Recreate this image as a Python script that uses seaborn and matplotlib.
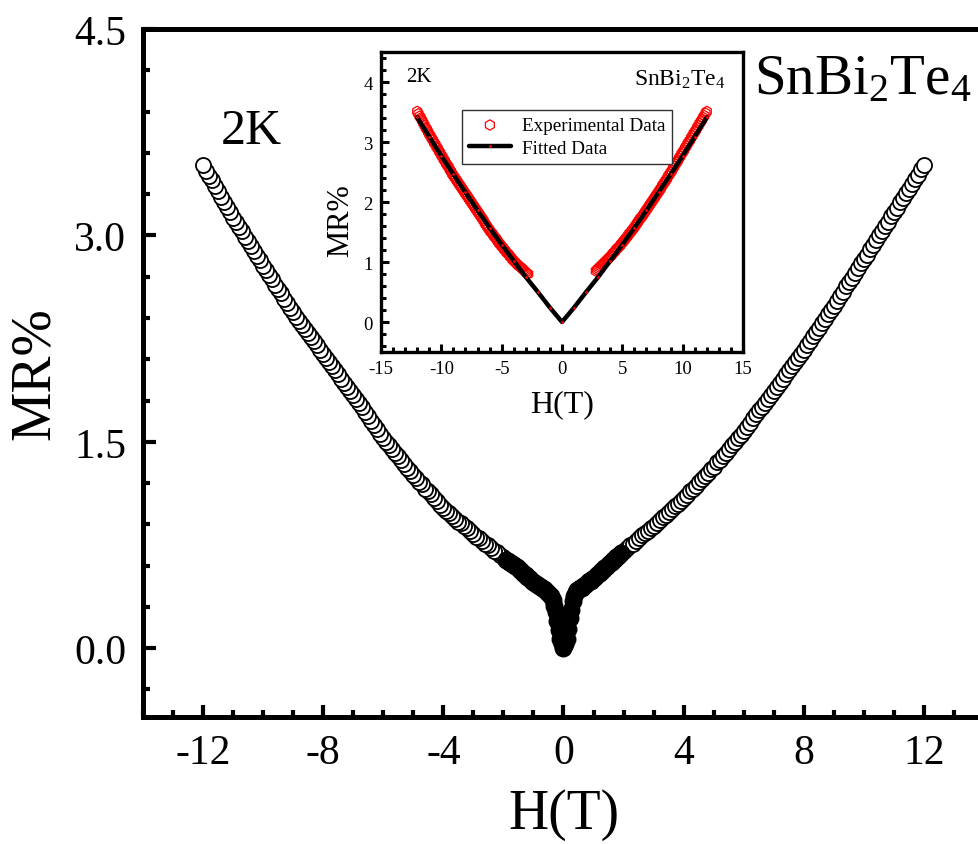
import matplotlib
matplotlib.use("Agg")
import matplotlib.pyplot as plt
from matplotlib.ticker import MultipleLocator, FixedLocator
import seaborn as sns
import pandas as pd

# ---------------- data ----------------
# positive field sweep (0 -> 12 T)
H_pos = [0.00, 0.05, 0.10, 0.15, 0.20, 0.25, 0.30, 0.35, 0.40, 0.45,
         0.50, 0.55, 0.60, 0.65, 0.70, 0.75, 0.80, 0.85, 0.90, 0.95,
         1.00, 1.05, 1.10, 1.15, 1.20, 1.25, 1.30, 1.35, 1.40, 1.45,
         1.50, 1.55, 1.60, 1.65, 1.70, 1.75, 1.80, 1.85, 1.90, 1.95,
         2.0, 2.1, 2.2, 2.3, 2.4, 2.5, 2.6, 2.7, 2.8, 2.9,
         3.0, 3.1, 3.2, 3.3, 3.4, 3.5, 3.6, 3.7, 3.8, 3.9,
         4.0, 4.1, 4.2, 4.3, 4.4, 4.5, 4.6, 4.7, 4.8, 4.9,
         5.0, 5.1, 5.2, 5.3, 5.4, 5.5, 5.6, 5.7, 5.8, 5.9,
         6.0, 6.1, 6.2, 6.3, 6.4, 6.5, 6.6, 6.7, 6.8, 6.9,
         7.0, 7.1, 7.2, 7.3, 7.4, 7.5, 7.6, 7.7, 7.8, 7.9,
         8.0, 8.1, 8.2, 8.3, 8.4, 8.5, 8.6, 8.7, 8.8, 8.9,
         9.0, 9.1, 9.2, 9.3, 9.4, 9.5, 9.6, 9.7, 9.8, 9.9,
         10.0, 10.1, 10.2, 10.3, 10.4, 10.5, 10.6, 10.7, 10.8, 10.9,
         11.0, 11.1, 11.2, 11.3, 11.4, 11.5, 11.6, 11.7, 11.8, 11.9,
         12.0]
MR_pos = [0.00, 0.03, 0.07, 0.14, 0.22, 0.28, 0.34, 0.38, 0.41, 0.42,
          0.43, 0.435, 0.44, 0.45, 0.46, 0.47, 0.48, 0.485, 0.49, 0.50,
          0.51, 0.52, 0.53, 0.54, 0.55, 0.56, 0.57, 0.58, 0.59, 0.60,
          0.61, 0.62, 0.63, 0.64, 0.65, 0.66, 0.67, 0.68, 0.69, 0.70,
          0.71, 0.73, 0.75, 0.76, 0.78, 0.80, 0.82, 0.84, 0.85, 0.87,
          0.89, 0.91, 0.93, 0.95, 0.97, 0.99, 1.01, 1.03, 1.05, 1.07,
          1.09, 1.11, 1.14, 1.16, 1.18, 1.21, 1.23, 1.25, 1.27, 1.30,
          1.32, 1.35, 1.37, 1.40, 1.42, 1.45, 1.48, 1.50, 1.53, 1.55,
          1.58, 1.61, 1.64, 1.67, 1.70, 1.73, 1.75, 1.78, 1.81, 1.84,
          1.87, 1.90, 1.93, 1.96, 1.99, 2.02, 2.05, 2.08, 2.11, 2.14,
          2.17, 2.20, 2.23, 2.27, 2.30, 2.33, 2.36, 2.39, 2.43, 2.46,
          2.49, 2.52, 2.56, 2.59, 2.63, 2.66, 2.69, 2.73, 2.76, 2.80,
          2.83, 2.86, 2.90, 2.93, 2.97, 3.00, 3.03, 3.07, 3.10, 3.14,
          3.17, 3.20, 3.24, 3.27, 3.31, 3.34, 3.37, 3.41, 3.44, 3.48,
          3.51]

# negative field sweep (0 -> -12 T)
H_neg = [-0.05, -0.10, -0.15, -0.20, -0.25, -0.30, -0.35, -0.40, -0.45,
         -0.50, -0.55, -0.60, -0.65, -0.70, -0.75, -0.80, -0.85, -0.90, -0.95,
         -1.00, -1.05, -1.10, -1.15, -1.20, -1.25, -1.30, -1.35, -1.40, -1.45,
         -1.50, -1.55, -1.60, -1.65, -1.70, -1.75, -1.80, -1.85, -1.90, -1.95,
         -2.0, -2.1, -2.2, -2.3, -2.4, -2.5, -2.6, -2.7, -2.8, -2.9,
         -3.0, -3.1, -3.2, -3.3, -3.4, -3.5, -3.6, -3.7, -3.8, -3.9,
         -4.0, -4.1, -4.2, -4.3, -4.4, -4.5, -4.6, -4.7, -4.8, -4.9,
         -5.0, -5.1, -5.2, -5.3, -5.4, -5.5, -5.6, -5.7, -5.8, -5.9,
         -6.0, -6.1, -6.2, -6.3, -6.4, -6.5, -6.6, -6.7, -6.8, -6.9,
         -7.0, -7.1, -7.2, -7.3, -7.4, -7.5, -7.6, -7.7, -7.8, -7.9,
         -8.0, -8.1, -8.2, -8.3, -8.4, -8.5, -8.6, -8.7, -8.8, -8.9,
         -9.0, -9.1, -9.2, -9.3, -9.4, -9.5, -9.6, -9.7, -9.8, -9.9,
         -10.0, -10.1, -10.2, -10.3, -10.4, -10.5, -10.6, -10.7, -10.8, -10.9,
         -11.0, -11.1, -11.2, -11.3, -11.4, -11.5, -11.6, -11.7, -11.8, -11.9,
         -12.0]
MR_neg = [0.03, 0.07, 0.13, 0.20, 0.26, 0.31, 0.35, 0.38, 0.39,
          0.40, 0.41, 0.42, 0.43, 0.44, 0.445, 0.45, 0.46, 0.47, 0.475,
          0.48, 0.49, 0.50, 0.51, 0.52, 0.53, 0.54, 0.55, 0.56, 0.57,
          0.58, 0.59, 0.60, 0.605, 0.61, 0.62, 0.63, 0.635, 0.64, 0.65,
          0.66, 0.68, 0.70, 0.71, 0.73, 0.75, 0.76, 0.78, 0.80, 0.81,
          0.83, 0.85, 0.87, 0.89, 0.91, 0.92, 0.94, 0.96, 0.98, 1.00,
          1.02, 1.04, 1.07, 1.09, 1.12, 1.14, 1.16, 1.19, 1.21, 1.24,
          1.26, 1.29, 1.31, 1.34, 1.37, 1.40, 1.42, 1.45, 1.48, 1.50,
          1.53, 1.56, 1.59, 1.62, 1.65, 1.69, 1.72, 1.75, 1.78, 1.81,
          1.84, 1.87, 1.90, 1.93, 1.96, 1.99, 2.02, 2.05, 2.08, 2.11,
          2.14, 2.17, 2.20, 2.23, 2.26, 2.29, 2.32, 2.35, 2.38, 2.41,
          2.44, 2.47, 2.51, 2.54, 2.58, 2.61, 2.64, 2.68, 2.71, 2.75,
          2.78, 2.82, 2.85, 2.89, 2.92, 2.96, 2.99, 3.03, 3.06, 3.10,
          3.13, 3.17, 3.21, 3.24, 3.28, 3.32, 3.36, 3.40, 3.43, 3.47,
          3.51]

# fitted curve shown in the inset
H_fit = [-12, -11, -10, -9, -8, -7, -6, -5, -4, -3, -2, -1, 0,
         1, 2, 3, 4, 5, 6, 7, 8, 9, 10, 11, 12]
MR_fit = [3.41, 3.09, 2.77, 2.46, 2.16, 1.86, 1.57, 1.29, 1.02, 0.75, 0.50, 0.24, 0.00,
          0.24, 0.50, 0.75, 1.02, 1.29, 1.57, 1.86, 2.16, 2.46, 2.77, 3.09, 3.41]

INSET_MIN_FIELD = 2.8
# low-field band where the measured points pile up into a solid black trace
DENSE_HIGH = 1.9

main_xticks = [-12, -8, -4, 0, 4, 8, 12]
main_yticks = [0.0, 1.5, 3.0, 4.5]
main_yticklabels = ["0.0", "1.5", "3.0", "4.5"]
inset_xticks = [-15, -10, -5, 0, 5, 10, 15]
inset_yticks = [0, 1, 2, 3, 4]

# ---------------- style ----------------
sns.set_style("ticks")
plt.rcParams["font.family"] = ["Liberation Serif", "DejaVu Serif"]
plt.rcParams["mathtext.fontset"] = "custom"
plt.rcParams["mathtext.rm"] = "Liberation Serif"
plt.rcParams["mathtext.it"] = "Liberation Serif:italic"
plt.rcParams["axes.unicode_minus"] = False
for key in ["text.color", "axes.labelcolor", "xtick.color", "ytick.color",
            "axes.edgecolor"]:
    plt.rcParams[key] = "black"

df_main = pd.DataFrame({"H": H_pos + H_neg, "MR": MR_pos + MR_neg})
absH = df_main["H"].abs()
df_open = df_main[absH > DENSE_HIGH]
df_dense = df_main[absH <= DENSE_HIGH]
df_exp = df_main[absH >= INSET_MIN_FIELD]
df_fit = pd.DataFrame({"H": H_fit, "MR": MR_fit})

W, Hh = 979, 845
fig = plt.figure(figsize=(W / 100, Hh / 100), dpi=100)
fig.patch.set_facecolor("white")


def px_axes(l, t, r, b):
    return [l / W, 1 - b / Hh, (r - l) / W, (b - t) / Hh]


# ---------------- main axes ----------------
ax = fig.add_axes(px_axes(143, 30, 984, 718))
sns.scatterplot(data=df_open, x="H", y="MR", ax=ax, marker="o", s=118,
                color="white", edgecolor="black", linewidth=1.3, legend=False,
                zorder=3)
sns.scatterplot(data=df_dense, x="H", y="MR", ax=ax, marker="o", s=135,
                color="black", edgecolor="black", linewidth=1.3, legend=False,
                zorder=3)
ax.set_xlim(-14, 14)
ax.set_ylim(-0.5, 4.5)
ax.xaxis.set_major_locator(FixedLocator(main_xticks))
ax.xaxis.set_minor_locator(MultipleLocator(1))
ax.yaxis.set_major_locator(FixedLocator(main_yticks))
ax.set_yticklabels(main_yticklabels)
ax.yaxis.set_minor_locator(MultipleLocator(0.3))
ax.tick_params(which="both", direction="in", top=False, right=False,
               width=3, colors="black")
ax.tick_params(which="major", length=9, labelsize=30, pad=12)
ax.tick_params(which="minor", length=5)
for sp in ax.spines.values():
    sp.set_linewidth(3.6)
    sp.set_color("black")
ax.set_xlabel("H(T)", fontsize=40)
ax.set_ylabel("MR%", fontsize=40)
ax.xaxis.set_label_coords(0.5, -0.103)
ax.yaxis.set_label_coords(-0.098, 0.5)
ax.text(-11.4, 3.67, "2K", fontsize=36, ha="left", va="baseline")
ax.text(6.35, 4.03, r"SnBi$_2$Te$_4$", fontsize=41, ha="left", va="baseline")

# ---------------- inset ----------------
ins = fig.add_axes(px_axes(381, 53, 743, 353))
ins.set_facecolor("white")
sns.scatterplot(data=df_exp, x="H", y="MR", ax=ins, marker="h", s=55,
                facecolor="none", edgecolor="red", linewidth=0.9,
                label="Experimental Data", zorder=3)
sns.lineplot(data=df_fit, x="H", y="MR", ax=ins, color="black", linewidth=3.2,
             marker="o", markersize=1.2, markerfacecolor="red",
             markeredgecolor="red", label="Fitted Data", zorder=4)
ins.set_xlim(-15, 15)
ins.set_ylim(-0.5, 4.5)
ins.xaxis.set_major_locator(FixedLocator(inset_xticks))
ins.xaxis.set_minor_locator(MultipleLocator(1))
ins.yaxis.set_major_locator(FixedLocator(inset_yticks))
ins.yaxis.set_minor_locator(MultipleLocator(0.2))
ins.tick_params(which="both", direction="in", top=False, right=False,
                width=2.2, colors="black")
ins.tick_params(which="major", length=6, labelsize=13.5, pad=6)
ins.tick_params(which="minor", length=3.5)
for sp in ins.spines.values():
    sp.set_linewidth(2.4)
    sp.set_color("black")
ins.set_xlabel("H(T)", fontsize=23)
ins.set_ylabel("MR%", fontsize=22)
ins.xaxis.set_label_coords(0.5, -0.125)
ins.yaxis.set_label_coords(-0.072, 0.44)
ins.text(-12.9, 4.01, "2K", fontsize=15, ha="left", va="baseline")
ins.text(6.0, 3.96, r"SnBi$_2$Te$_4$", fontsize=17, ha="left", va="baseline")
leg = ins.legend(loc="upper left", bbox_to_anchor=(0.224, 0.807),
                 borderaxespad=0, fontsize=13.8, frameon=True, fancybox=False,
                 edgecolor="#333333", framealpha=1, handlelength=2.2,
                 borderpad=0.35, labelspacing=0.3, handletextpad=0.55)
leg.get_frame().set_linewidth(1.0)

fig.savefig("out.png", dpi=100, facecolor="white")
